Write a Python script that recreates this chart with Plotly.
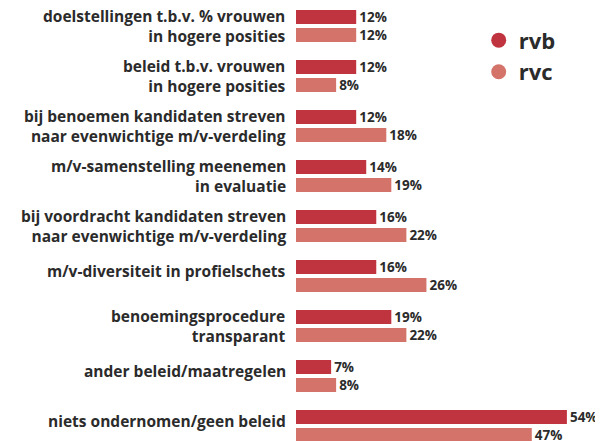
import plotly.graph_objects as go

categories = [
    "doelstellingen t.b.v. % vrouwen<br>in hogere posities",
    "beleid t.b.v. vrouwen<br>in hogere posities",
    "bij benoemen kandidaten streven<br>naar evenwichtige m/v-verdeling",
    "m/v-samenstelling meenemen<br>in evaluatie",
    "bij voordracht kandidaten streven<br>naar evenwichtige m/v-verdeling",
    "m/v-diversiteit in profielschets",
    "benoemingsprocedure<br>transparant",
    "ander beleid/maatregelen",
    "niets ondernomen/geen beleid",
]
rvb = [12, 12, 12, 14, 16, 16, 19, 7, 54]
rvc = [12, 8, 18, 19, 22, 26, 22, 8, 47]

c_rvb = "#c0343f"
c_rvc = "#d4736a"
txt = "#2b2b2b"
fam = "Open Sans"

idx = list(range(len(categories)))
fig = go.Figure()
for name, vals, col in [("rvb", rvb, c_rvb), ("rvc", rvc, c_rvc)]:
    fig.add_trace(go.Bar(
        y=idx, x=vals, orientation="h", name=name, marker_color=col,
        marker_line_width=0, showlegend=False,
        text=[f"{v}%" for v in vals], textposition="outside",
        constraintext="none",
        textfont=dict(family=fam, size=13.5, color=txt, weight=700),
        cliponaxis=False,
    ))
    fig.add_trace(go.Scatter(
        x=[None], y=[None], mode="markers", name=name,
        marker=dict(color=col, size=15, symbol="circle"),
    ))

for i, c in enumerate(categories):
    sh = 0 if "<br>" in c else 5
    fig.add_annotation(
        x=0, xref="x", y=i, yref="y", text=c, showarrow=False,
        xanchor="right", align="right", xshift=-8, yshift=sh,
        font=dict(family=fam, size=15.5, color=txt, weight=700),
    )

fig.update_layout(
    width=595, height=433,
    margin=dict(l=288, r=6, t=1, b=0),
    paper_bgcolor="white", plot_bgcolor="white",
    barmode="group", bargap=0.28, bargroupgap=0.22,
    xaxis=dict(range=[0, 60], visible=False),
    yaxis=dict(range=[8.3, -0.34], visible=False),
    legend=dict(x=0.607, y=0.976, xanchor="left", yanchor="top",
                font=dict(family=fam, size=22, color=txt, weight=700),
                bgcolor="rgba(0,0,0,0)", tracegroupgap=0, itemwidth=30),
)
fig.write_html("out.html")
